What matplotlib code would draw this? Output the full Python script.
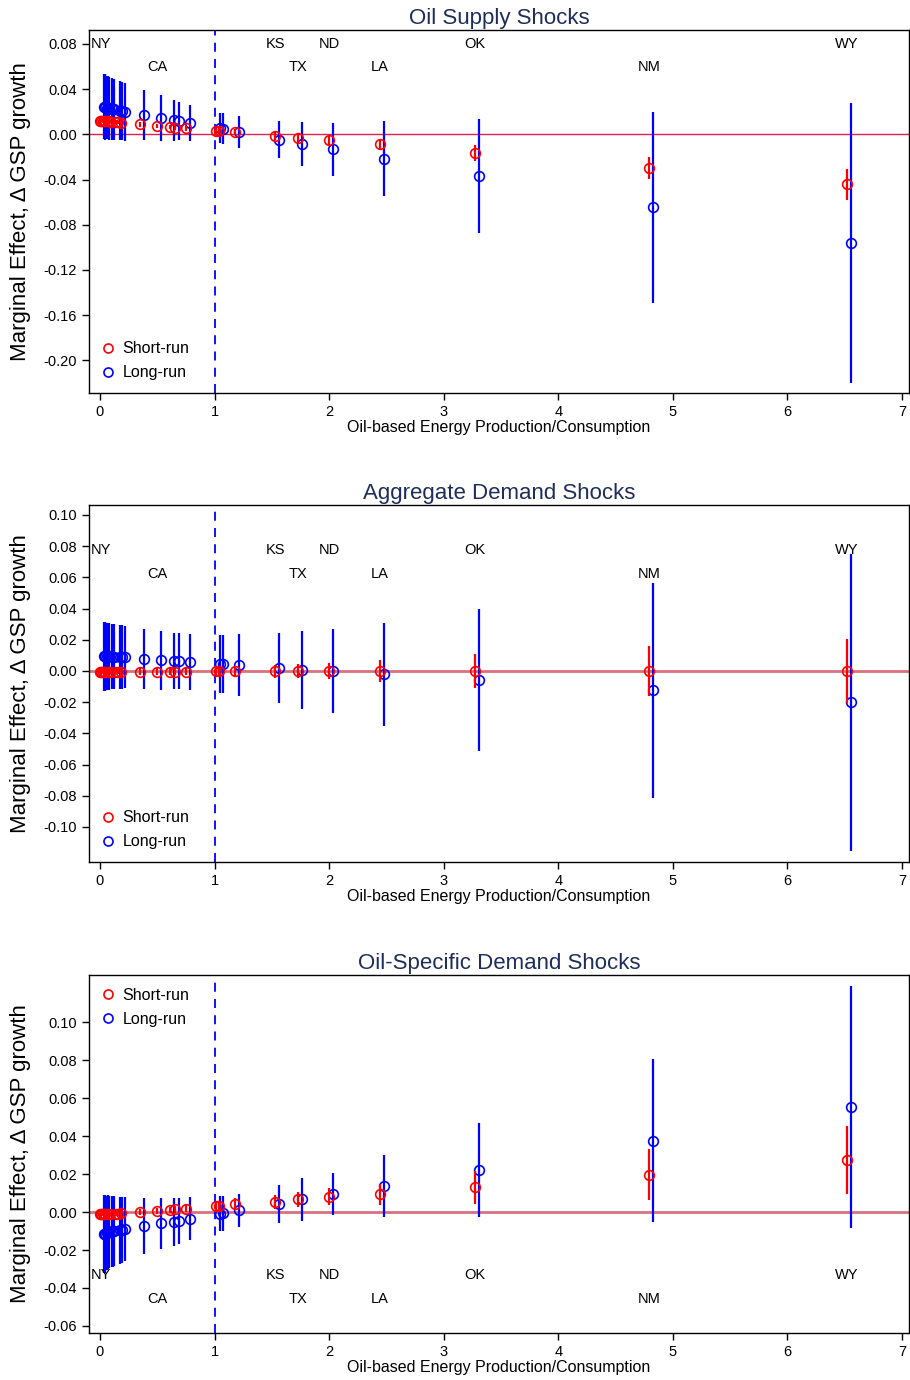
import matplotlib
matplotlib.use("Agg")
import matplotlib.pyplot as plt
from matplotlib.lines import Line2D

plt.rcParams['font.family'] = ['Liberation Sans', 'DejaVu Sans']

# state ratio of oil-based energy production / consumption
ratio = [0.00, 0.005, 0.01, 0.03, 0.035, 0.045, 0.07, 0.075, 0.085, 0.14, 0.155, 0.185,
         0.35, 0.50, 0.61, 0.655, 0.75, 1.01, 1.04, 1.18,
         1.53, 1.73, 2.00, 2.44, 3.27, 4.79, 6.52]

# labelled states (x value, row)
lab_names = ['NY', 'CA', 'KS', 'TX', 'ND', 'LA', 'OK', 'NM', 'WY']
lab_x = [0.01, 0.50, 1.53, 1.73, 2.00, 2.44, 3.27, 4.79, 6.52]
lab_row = [0, 1, 0, 1, 0, 1, 0, 1, 0]

# --- Oil supply shocks ---
sr1 = [0.012, 0.012, 0.012, 0.0118, 0.0118, 0.0116, 0.0114, 0.0114, 0.0113, 0.0108, 0.0107, 0.0104,
       0.0088, 0.0072, 0.0064, 0.0058, 0.0052, 0.003, 0.0028, 0.0018,
       -0.0013, -0.003, -0.0053, -0.0088, -0.0165, -0.0295, -0.0442]
sr1_ci = [0.0015, 0.0015, 0.0015, 0.0015, 0.0015, 0.0015, 0.0015, 0.0015, 0.0015, 0.0015, 0.0015, 0.0015,
          0.002, 0.002, 0.002, 0.002, 0.002, 0.0025, 0.0025, 0.0028,
          0.0035, 0.004, 0.004, 0.0045, 0.007, 0.0098, 0.0137]
lr1 = [0.0245, 0.0245, 0.024, 0.0235, 0.0235, 0.023, 0.0225, 0.0222, 0.022, 0.021, 0.0205, 0.020,
       0.0172, 0.0145, 0.0124, 0.0118, 0.010, 0.0055, 0.005, 0.0018,
       -0.0047, -0.0083, -0.0133, -0.0215, -0.0366, -0.0645, -0.0965]
lr1_ci = [0.029, 0.029, 0.029, 0.028, 0.028, 0.0278, 0.0275, 0.0272, 0.027, 0.026, 0.0258, 0.0255,
          0.022, 0.020, 0.018, 0.0172, 0.0157, 0.0135, 0.0135, 0.0140,
          0.0165, 0.0195, 0.0237, 0.033, 0.0506, 0.0847, 0.124]

# --- Aggregate demand shocks ---
sr2 = [-0.0005, -0.0005, -0.0005, -0.0005, -0.0005, -0.0005, -0.0005, -0.0005, -0.0005, -0.0005, -0.0005, -0.0005,
       -0.0004, -0.0004, -0.0004, -0.0004, -0.0004, -0.0003, -0.0003, -0.0003,
       -0.0003, -0.0002, -0.0002, -0.0002, 0.0, 0.0, 0.0]
sr2_ci = [0.0015, 0.0015, 0.0015, 0.0015, 0.0015, 0.0015, 0.0015, 0.0015, 0.0015, 0.0015, 0.0015, 0.0015,
          0.002, 0.002, 0.0022, 0.0022, 0.0025, 0.003, 0.003, 0.0037,
          0.004, 0.0045, 0.005, 0.007, 0.011, 0.0159, 0.0203]
lr2 = [0.0094, 0.0094, 0.0094, 0.0093, 0.0093, 0.0093, 0.0092, 0.0092, 0.0092, 0.009, 0.0089, 0.0088,
       0.0075, 0.0068, 0.0064, 0.0063, 0.0058, 0.0045, 0.0044, 0.0038,
       0.002, 0.0006, 0.0, -0.002, -0.0058, -0.0124, -0.0201]
lr2_ci = [0.022, 0.022, 0.022, 0.0215, 0.0215, 0.0213, 0.021, 0.021, 0.021, 0.0205, 0.0203, 0.020,
          0.0192, 0.019, 0.018, 0.018, 0.018, 0.0187, 0.0187, 0.0199,
          0.0224, 0.025, 0.027, 0.033, 0.0455, 0.069, 0.095]

# --- Oil-specific demand shocks ---
sr3 = [-0.001, -0.001, -0.001, -0.001, -0.001, -0.001, -0.0009, -0.0009, -0.0009, -0.0008, -0.0008, -0.0007,
       0.0002, 0.0007, 0.0011, 0.0014, 0.0018, 0.0032, 0.0033, 0.0042,
       0.0053, 0.0068, 0.008, 0.0095, 0.013, 0.0198, 0.0274]
sr3_ci = [0.0012, 0.0012, 0.0012, 0.0012, 0.0012, 0.0012, 0.0012, 0.0012, 0.0012, 0.0012, 0.0012, 0.0012,
          0.0015, 0.0015, 0.0017, 0.0017, 0.002, 0.0025, 0.0025, 0.003,
          0.0035, 0.004, 0.0045, 0.0055, 0.0086, 0.0132, 0.0179]
lr3 = [-0.0115, -0.0115, -0.0113, -0.0108, -0.0107, -0.0105, -0.0102, -0.0101, -0.01, -0.0095, -0.0093, -0.009,
       -0.0075, -0.006, -0.0051, -0.0046, -0.0035, -0.0008, -0.0006, 0.001,
       0.0042, 0.0068, 0.0095, 0.0137, 0.0221, 0.0377, 0.0553]
lr3_ci = [0.0205, 0.0205, 0.020, 0.0195, 0.0195, 0.019, 0.0188, 0.0186, 0.0185, 0.0177, 0.0175, 0.017,
          0.0148, 0.0136, 0.0127, 0.0122, 0.0112, 0.0093, 0.0093, 0.0088,
          0.010, 0.0113, 0.011, 0.0162, 0.0249, 0.043, 0.0638]

panels = [
    dict(title='Oil Supply Shocks', sr=sr1, sr_ci=sr1_ci, lr=lr1, lr_ci=lr1_ci,
         yticks=[0.08, 0.04, 0.00, -0.04, -0.08, -0.12, -0.16, -0.20], ylim=(-0.229, 0.0924),
         lab_y=(0.080, 0.0595), leg='lower left', rect=[0.0978, 0.7152, 0.901, 0.2631], zline=('#e02050', 1.0)),
    dict(title='Aggregate Demand Shocks', sr=sr2, sr_ci=sr2_ci, lr=lr2, lr_ci=lr2_ci,
         yticks=[0.10, 0.08, 0.06, 0.04, 0.02, 0.00, -0.02, -0.04, -0.06, -0.08, -0.10], ylim=(-0.1224, 0.1064),
         lab_y=(0.0776, 0.062), leg='lower left', rect=[0.0978, 0.3754, 0.901, 0.2587], zline=('#d8707f', 2.0)),
    dict(title='Oil-Specific Demand Shocks', sr=sr3, sr_ci=sr3_ci, lr=lr3, lr_ci=lr3_ci,
         yticks=[0.10, 0.08, 0.06, 0.04, 0.02, 0.00, -0.02, -0.04, -0.06], ylim=(-0.0637, 0.125),
         lab_y=(-0.0332, -0.0458), leg='upper left', rect=[0.0978, 0.0341, 0.901, 0.2594], zline=('#d8707f', 2.0)),
]

RED = '#ff0000'
BLUE = '#0000ff'
dodge = 0.035

fig = plt.figure(figsize=(9.1, 13.8), dpi=100)

for p in panels:
    ax = fig.add_axes(p['rect'])
    ax.axhline(0, color=p['zline'][0], lw=p['zline'][1], zorder=1)
    ax.axvline(1, color=BLUE, lw=1.3, ls=(0, (5, 4)), zorder=1)
    xb = [x + dodge for x in ratio]
    ax.errorbar(xb, p['lr'], yerr=p['lr_ci'], fmt='o', color=BLUE, mfc='none', mec=BLUE,
                ms=7, mew=1.2, elinewidth=1.6, capsize=0, zorder=2)
    ax.errorbar(ratio, p['sr'], yerr=p['sr_ci'], fmt='o', color=RED, mfc='none', mec=RED,
                ms=7, mew=1.2, elinewidth=1.6, capsize=0, zorder=3)
    for name, x, row in zip(lab_names, lab_x, lab_row):
        ax.text(x, p['lab_y'][row], name, ha='center', va='center', fontsize=10.5)
    ax.set_xlim(-0.096, 7.06)
    ax.set_ylim(*p['ylim'])
    ax.set_xticks(range(8))
    ax.set_yticks(p['yticks'])
    ax.set_yticklabels(['%.2f' % t for t in p['yticks']])
    ax.tick_params(labelsize=10.5, direction='out', length=5, width=1)
    ax.set_xlabel('Oil-based Energy Production/Consumption', fontsize=11.5, labelpad=1)
    ax.set_ylabel('Marginal Effect, Δ GSP growth', fontsize=16, labelpad=9)
    ax.set_title(p['title'], fontsize=16, color='#1e2d5a', pad=4)
    for s in ax.spines.values():
        s.set_linewidth(1.0)
    handles = [Line2D([], [], ls='none', marker='o', mfc='none', mec=RED, mew=1.2, ms=6.5),
               Line2D([], [], ls='none', marker='o', mfc='none', mec=BLUE, mew=1.2, ms=6.5)]
    ax.legend(handles, ['Short-run', 'Long-run'], loc=p['leg'], frameon=False, fontsize=11.5,
              handlelength=0.8, handletextpad=0.5, borderaxespad=0.4, labelspacing=0.55)

fig.savefig('out.png', dpi=100)
